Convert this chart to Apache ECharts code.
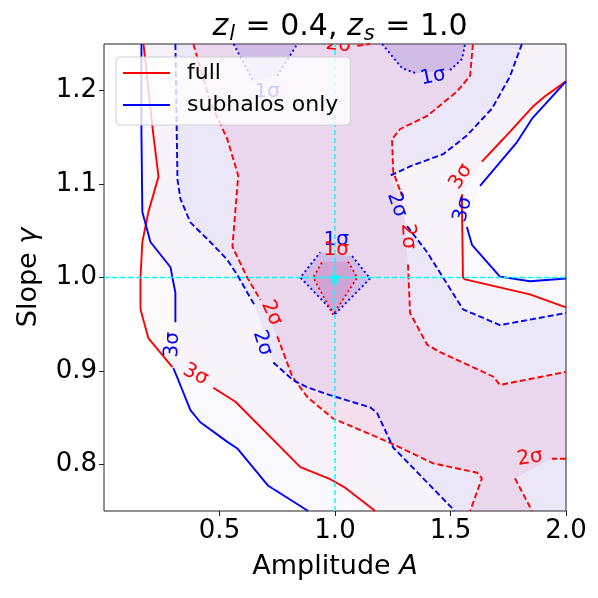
<!DOCTYPE html>
<html><head><meta charset="utf-8">
<script src="https://cdn.jsdelivr.net/npm/echarts@6/dist/echarts.min.js"></script>
<style>html,body{margin:0;padding:0;background:#fff}#c{width:598px;height:598px}</style>
</head><body><div id="c"></div>
<script>
// ---------------- data ----------------
const xTicks = [0.5, 1.0, 1.5, 2.0];
const yTicks = [0.8, 0.9, 1.0, 1.1, 1.2];
const truthA = 1.0, truthGamma = 1.0;

// each contour: list of segments (split where an inline label sits)
// full (red) 3 sigma
const full3Left = [
  [[0.171,1.25],[0.214,1.152],[0.236,1.108],[0.192,1.070],[0.166,1.038],[0.158,1.0],[0.158,0.966],[0.192,0.935],[0.296,0.904]],
  [[0.473,0.882],[0.569,0.867],[0.850,0.797],[0.979,0.784],[1.044,0.775],[1.174,0.75]]
];
const full3Right = [
  [[2.0,1.210],[1.909,1.194],[1.857,1.183],[1.727,1.148],[1.636,1.124]],
  [[1.550,1.089],[1.550,1.068],[1.554,1.0],[1.563,0.998],[1.844,0.982],[2.0,0.968]]
];
// subhalos (blue) 3 sigma
const sub3Left = [
  [[0.162,1.25],[0.162,1.156],[0.166,1.070],[0.201,1.038],[0.288,1.011],[0.296,1.0],[0.309,0.984],[0.309,0.952]],
  [[0.300,0.903],[0.322,0.890],[0.374,0.858],[0.417,0.845],[0.534,0.824],[0.577,0.817],[0.711,0.777],[0.884,0.75]]
];
const sub3Right = [
  [[2.0,1.210],[1.853,1.170],[1.788,1.145],[1.628,1.098]],
  [[1.571,1.054],[1.593,1.035],[1.714,1.001],[1.844,0.996],[2.0,0.999]]
];
// full (red) 2 sigma
const full2Left = [
  [[0.387,1.25],[0.460,1.188],[0.534,1.148],[0.581,1.109],[0.556,1.033],[0.620,1.0],[0.677,0.976]],
  [[0.750,0.937],[0.815,0.894],[0.880,0.872],[0.992,0.849],[1.239,0.823],[1.425,0.801],[1.615,0.791],[1.636,0.785],[1.585,0.75]]
];
const full2Right = [
  [[1.597,1.25],[1.585,1.216],[1.528,1.199],[1.399,1.173],[1.282,1.159],[1.247,1.148],[1.252,1.113],[1.291,1.087]],
  [[1.316,1.014],[1.325,0.962],[1.399,0.928],[1.455,0.920],[1.684,0.894],[1.714,0.885],[2.0,0.899]]
];
const full2Low = [
  [[2.0,0.806],[1.939,0.806]],
  [[1.779,0.785],[1.853,0.75]]
];
const full2Top = [
  [[1.096,1.248],[1.152,1.25]]
];
// subhalos (blue) 2 sigma
const sub2Left = [
  [[0.309,1.25],[0.318,1.105],[0.331,1.084],[0.374,1.059],[0.460,1.038],[0.534,1.019],[0.581,1.001],[0.620,0.984],[0.655,0.969]],
  [[0.733,0.909],[0.819,0.890],[0.884,0.882],[0.979,0.874],[1.152,0.861],[1.182,0.855],[1.252,0.818],[1.507,0.753],[1.516,0.75]]
];
const sub2Right = [
  [[1.809,1.25],[1.757,1.215],[1.680,1.181],[1.571,1.152],[1.468,1.132],[1.325,1.119],[1.239,1.109]],
  [[1.312,1.055],[1.399,1.027],[1.455,1.005],[1.554,0.966],[1.714,0.949],[2.0,0.962]]
];
// 1 sigma
const sub1Center = [
  [[1.001,0.961],[0.850,1.0],[0.936,1.027]],
  [[1.074,1.023],[1.152,0.999],[1.001,0.961]]
];
const full1Center = [
  [[0.992,0.960],[0.906,1.0],[0.945,1.017]],
  [[1.057,1.017],[1.096,1.0],[0.992,0.960]]
];
const sub1TopLeft = [
  [[0.561,1.25],[0.646,1.21]],
  [[0.750,1.216],[0.837,1.25]]
];
const sub1TopRight = [
  [[1.204,1.25],[1.291,1.224],[1.347,1.219]],
  [[1.498,1.222],[1.550,1.234],[1.563,1.25]]
];
// inline labels: [A, gamma, text, set, angle]
const contourLabels = [
  [0.396,0.896,'3σ','full',-27],
  [0.296,0.928,'3σ','sub',87],
  [0.725,0.962,'2σ','full',-65],
  [0.686,0.930,'2σ','sub',-72],
  [1.545,1.108,'3σ','full',58],
  [1.554,1.073,'3σ','sub',75],
  [1.268,1.078,'2σ','sub',-71],
  [1.316,1.044,'2σ','full',-86],
  [1.844,0.807,'2σ','full',10],
  [1.015,1.249,'2σ','full',-6],
  [0.707,1.199,'1σ','sub',0],
  [1.425,1.215,'1σ','sub',12],
  [1.005,1.040,'1σ','sub',0],
  [1.005,1.030,'1σ','full',0]
];

// ---------------- styles ----------------
const X0 = 0, X1 = 2.0, Y0 = 0.75, Y1 = 1.25;
const COL = {full:'#ff0000', sub:'#0000ff'};
const FONT = 'DejaVu Sans';
const DASH = [6, 3], DOT = [2, 2.8];

const flat = s => s.reduce((a, b) => a.concat(b), []);
const rev = p => p.slice().reverse();

const polyBlue3 = [...flat(sub3Left), [X1, Y0], ...rev(flat(sub3Right)), [X1, Y1]];
const polyRed3 = [...flat(full3Left), [X1, Y0], ...rev(flat(full3Right)), [X1, Y1]];
const polyBlue2 = [...flat(sub2Left), [X1, Y0], ...rev(flat(sub2Right))];
const polyRed2 = [...flat(full2Left), ...rev(flat(full2Low)), ...rev(flat(full2Right))];

function fillSeries(poly, color, z) {
  return {type:'custom', silent:true, clip:true, z:z, animation:false,
    data:[[X0, Y0]],
    renderItem:(p, api) => ({type:'polygon',
      shape:{points: poly.map(pt => api.coord(pt))}, style:{fill:color}})};
}
function lineSeries(segs, set, dash, name) {
  return segs.map(seg => ({type:'line', name:name, data:seg, showSymbol:false, symbol:'none',
    silent:true, z:3, animation:false, color:COL[set],
    lineStyle:{color:COL[set], width:1.9, type:dash}}));
}

const series = [
  fillSeries(polyBlue3, 'rgba(110,100,230,0.045)', 1),
  fillSeries(polyRed3, 'rgba(230,90,150,0.035)', 1),
  fillSeries(polyBlue2, 'rgba(100,90,230,0.075)', 1),
  fillSeries(polyRed2, 'rgba(235,110,160,0.13)', 1),
  fillSeries(flat(sub1TopLeft), 'rgba(120,90,210,0.22)', 1),
  fillSeries(flat(sub1TopRight), 'rgba(120,90,210,0.22)', 1),
  fillSeries(flat(sub1Center), 'rgba(120,90,210,0.22)', 1),
  fillSeries(flat(full1Center), 'rgba(210,70,140,0.2)', 1),
  ...lineSeries(full3Left, 'full', 'solid', 'full'),
  ...lineSeries(full3Right, 'full', 'solid', 'full'),
  ...lineSeries(sub3Left, 'sub', 'solid', 'subhalos only'),
  ...lineSeries(sub3Right, 'sub', 'solid', 'subhalos only'),
  ...lineSeries(full2Left, 'full', DASH),
  ...lineSeries(full2Right, 'full', DASH),
  ...lineSeries(full2Low, 'full', DASH),
  ...lineSeries(full2Top, 'full', DASH),
  ...lineSeries(sub2Left, 'sub', DASH),
  ...lineSeries(sub2Right, 'sub', DASH),
  ...lineSeries(sub1Center, 'sub', DOT),
  ...lineSeries(full1Center, 'full', DOT),
  ...lineSeries(sub1TopLeft, 'sub', DOT),
  ...lineSeries(sub1TopRight, 'sub', DOT),
  {type:'line', data:[[truthA, Y0],[truthA, Y1]], showSymbol:false, symbol:'none', silent:true, z:4, animation:false,
    lineStyle:{color:'#00ffff', width:1.5, type:[5,3]}},
  {type:'line', data:[[X0, truthGamma],[X1, truthGamma]], showSymbol:false, symbol:'none', silent:true, z:4, animation:false,
    lineStyle:{color:'#00ffff', width:1.5, type:[5,3]}},
  {type:'scatter', data:[[truthA, truthGamma]], z:6, silent:true, animation:false,
    symbol:'path://M50,0 L61,35 L98,35 L68,57 L79,91 L50,70 L21,91 L32,57 L2,35 L39,35 Z',
    symbolSize:15, itemStyle:{color:'#00ffff'}},
  {type:'custom', z:5, silent:true, clip:true, animation:false,
    data: contourLabels.map(l => [l[0], l[1]]),
    renderItem:(params, api) => {
      const L = contourLabels[params.dataIndex];
      const p = api.coord([L[0], L[1]]);
      return {type:'text', x:p[0], y:p[1], rotation:L[4]*Math.PI/180,
        style:{text:L[2], fill:COL[L[3]], fontSize:20, fontFamily:FONT, align:'center', verticalAlign:'middle'}};
    }}
];

const chart = echarts.init(document.getElementById('c'), null, {renderer:'canvas'});
chart.setOption({
  animation:false,
  backgroundColor:'#ffffff',
  title:{
    left:335, top:2, textAlign:'center',
    text:'{i|z}{sub|l}{n| = 0.4, }{i|z}{sub|s}{n| = 1.0}',
    textStyle:{fontWeight:'normal', rich:{
      n:{fontSize:30, fontFamily:FONT, fontWeight:'normal', color:'#000', lineHeight:40},
      i:{fontSize:30, fontFamily:FONT, fontWeight:'normal', fontStyle:'italic', color:'#000', lineHeight:40},
      sub:{fontSize:21, fontFamily:FONT, fontWeight:'normal', fontStyle:'italic', color:'#000', lineHeight:21, padding:[15,1,0,1]}
    }}
  },
  legend:{
    left:116, top:57, orient:'vertical', z:10, selectedMode:false,
    data:[{name:'full', icon:'rect', itemStyle:{color:COL.full}},
          {name:'subhalos only', icon:'rect', itemStyle:{color:COL.sub}}],
    itemWidth:47, itemHeight:2, itemGap:6,
    textStyle:{fontSize:22, fontFamily:FONT, color:'#000', lineHeight:26, padding:[0,0,0,12]},
    backgroundColor:'rgba(255,255,255,0.8)', borderColor:'#d0d0d0', borderWidth:1, borderRadius:4,
    padding:[3,12,7,7]
  },
  grid:{left:104, right:32, top:44, bottom:87, show:true, borderColor:'#222', borderWidth:1, backgroundColor:'transparent'},
  xAxis:{type:'value', min:X0, max:X1,
    name:'Amplitude {it|A}', nameLocation:'middle', nameGap:42,
    nameTextStyle:{fontSize:27, fontFamily:FONT, color:'#000', rich:{it:{fontSize:27, fontFamily:FONT, fontStyle:'italic', color:'#000'}}},
    axisLine:{show:false}, splitLine:{show:false},
    axisTick:{show:true, customValues:xTicks, length:5, lineStyle:{color:'#222'}},
    axisLabel:{customValues:xTicks, formatter:v => v.toFixed(1), fontSize:26, fontFamily:FONT, color:'#000', margin:7}},
  yAxis:{type:'value', min:Y0, max:Y1,
    name:'Slope {it|γ}', nameLocation:'middle', nameGap:62, nameRotate:90,
    nameTextStyle:{fontSize:27, fontFamily:FONT, color:'#000', rich:{it:{fontSize:27, fontFamily:FONT, fontStyle:'italic', color:'#000'}}},
    axisLine:{show:false}, splitLine:{show:false},
    axisTick:{show:true, customValues:yTicks, length:5, lineStyle:{color:'#222'}},
    axisLabel:{customValues:yTicks, formatter:v => v.toFixed(1), fontSize:26, fontFamily:FONT, color:'#000', margin:7}},
  series:series
});
</script></body></html>
